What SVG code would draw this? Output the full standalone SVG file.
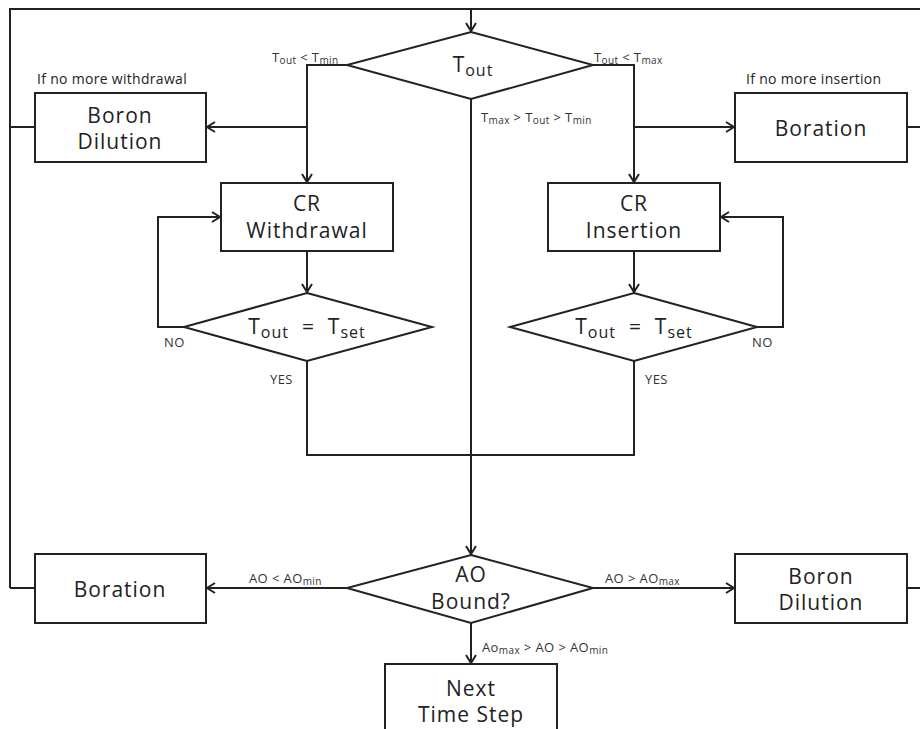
<svg xmlns="http://www.w3.org/2000/svg" width="920" height="729" viewBox="0 0 920 729">
<style>
.n{fill:#fff;stroke:#222;stroke-width:2}
.c{fill:none;stroke:#222;stroke-width:2}
.t{font-family:"Open Sans","Noto Sans",sans-serif;font-size:21px;letter-spacing:1px;fill:#222;text-anchor:middle}
.s{font-family:"Open Sans","Noto Sans",sans-serif;font-size:13px;letter-spacing:0.4px;fill:#333}
.m{font-family:"Open Sans","Noto Sans",sans-serif;font-size:14px;letter-spacing:0.3px;fill:#222}
</style>
<defs>
<marker id="a" markerWidth="12" markerHeight="12" refX="10" refY="6" orient="auto" markerUnits="userSpaceOnUse">
<path d="M2,1 L10,6 L2,11" fill="none" stroke="#222" stroke-width="2"/>
</marker>
</defs>
<g id="connectors">
<path class="c" d="M10,588 L10,9 L920,9"/>
<path class="c" d="M471,9 L471,31" marker-end="url(#a)"/>
<path class="c" d="M347,65 L307,65 L307,182" marker-end="url(#a)"/>
<path class="c" d="M307,127 L207,127" marker-end="url(#a)"/>
<path class="c" d="M35,127 L10,127"/>
<path class="c" d="M593,65 L634,65 L634,182" marker-end="url(#a)"/>
<path class="c" d="M634,127 L734,127" marker-end="url(#a)"/>
<path class="c" d="M907,127 L920,127"/>
<path class="c" d="M471,99 L471,554" marker-end="url(#a)"/>
<path class="c" d="M307,251 L307,292" marker-end="url(#a)"/>
<path class="c" d="M184,327 L158,327 L158,217 L220,217" marker-end="url(#a)"/>
<path class="c" d="M634,251 L634,292" marker-end="url(#a)"/>
<path class="c" d="M757,327 L783,327 L783,217 L721,217" marker-end="url(#a)"/>
<path class="c" d="M307,361 L307,455 L634,455 L634,361"/>
<path class="c" d="M347,588 L207,588" marker-end="url(#a)"/>
<path class="c" d="M35,588 L10,588"/>
<path class="c" d="M593,588 L734,588" marker-end="url(#a)"/>
<path class="c" d="M907,588 L920,588"/>
<path class="c" d="M471,623 L471,663" marker-end="url(#a)"/>
</g>
<g id="tout">
<polygon class="n" points="471,32 593,65 471,99 347,65"/>
<text class="t" x="473" y="72">T<tspan font-size="16" dy="4">out</tspan></text>
</g>
<g id="boron-dilution-top">
<rect class="n" x="35" y="93" width="171" height="69"/>
<text class="t" x="120" y="123">Boron<tspan x="120" dy="26">Dilution</tspan></text>
<text class="m" x="37" y="84">If no more withdrawal</text>
</g>
<g id="boration-top">
<rect class="n" x="735" y="93" width="172" height="69"/>
<text class="t" x="821" y="136">Boration</text>
<text class="m" x="746" y="84">If no more insertion</text>
</g>
<g id="cr-withdrawal">
<rect class="n" x="221" y="183" width="172" height="68"/>
<text class="t" x="307" y="211">CR<tspan x="307" dy="27">Withdrawal</tspan></text>
</g>
<g id="cr-insertion">
<rect class="n" x="548" y="183" width="172" height="68"/>
<text class="t" x="634" y="211">CR<tspan x="634" dy="27">Insertion</tspan></text>
</g>
<g id="check-left">
<polygon class="n" points="307,293 432,327 307,361 184,327"/>
<text class="t" x="307" y="334">T<tspan font-size="16" dy="4">out</tspan><tspan dy="-4">&#160;&#160;=&#160;&#160;T</tspan><tspan font-size="16" dy="4">set</tspan></text>
</g>
<g id="check-right">
<polygon class="n" points="634,293 757,327 634,361 510,327"/>
<text class="t" x="634" y="334">T<tspan font-size="16" dy="4">out</tspan><tspan dy="-4">&#160;&#160;=&#160;&#160;T</tspan><tspan font-size="16" dy="4">set</tspan></text>
</g>
<g id="ao-bound">
<polygon class="n" points="471,555 593,588 471,623 347,588"/>
<text class="t" x="471" y="582">AO<tspan x="471" dy="27">Bound?</tspan></text>
</g>
<g id="boration-bottom">
<rect class="n" x="35" y="554" width="171" height="69"/>
<text class="t" x="120" y="597">Boration</text>
</g>
<g id="boron-dilution-bottom">
<rect class="n" x="735" y="554" width="172" height="69"/>
<text class="t" x="821" y="584">Boron<tspan x="821" dy="26">Dilution</tspan></text>
</g>
<g id="next-time-step">
<rect class="n" x="385" y="664" width="172" height="80"/>
<text class="t" x="471" y="696">Next<tspan x="471" dy="26">Time Step</tspan></text>
</g>
<g id="labels">
<text class="s" x="272" y="62">T<tspan font-size="10" dy="2">out</tspan><tspan dy="-2"> &lt; T</tspan><tspan font-size="10" dy="2">min</tspan></text>
<text class="s" x="594" y="62">T<tspan font-size="10" dy="2">out</tspan><tspan dy="-2"> &lt; T</tspan><tspan font-size="10" dy="2">max</tspan></text>
<text class="s" x="481" y="122">T<tspan font-size="10" dy="2">max</tspan><tspan dy="-2"> &gt; T</tspan><tspan font-size="10" dy="2">out</tspan><tspan dy="-2"> &gt; T</tspan><tspan font-size="10" dy="2">min</tspan></text>
<text class="s" x="164" y="347" letter-spacing="1">NO</text>
<text class="s" x="752" y="347" letter-spacing="1">NO</text>
<text class="s" x="270" y="384" letter-spacing="1">YES</text>
<text class="s" x="645" y="384" letter-spacing="1">YES</text>
<text class="s" x="249" y="583">AO &lt; AO<tspan font-size="10" dy="2">min</tspan></text>
<text class="s" x="605" y="583">AO &gt; AO<tspan font-size="10" dy="2">max</tspan></text>
<text class="s" x="482" y="652">Ao<tspan font-size="10" dy="2">max</tspan><tspan dy="-2"> &gt; AO &gt; AO</tspan><tspan font-size="10" dy="2">min</tspan></text>
</g>
</svg>
